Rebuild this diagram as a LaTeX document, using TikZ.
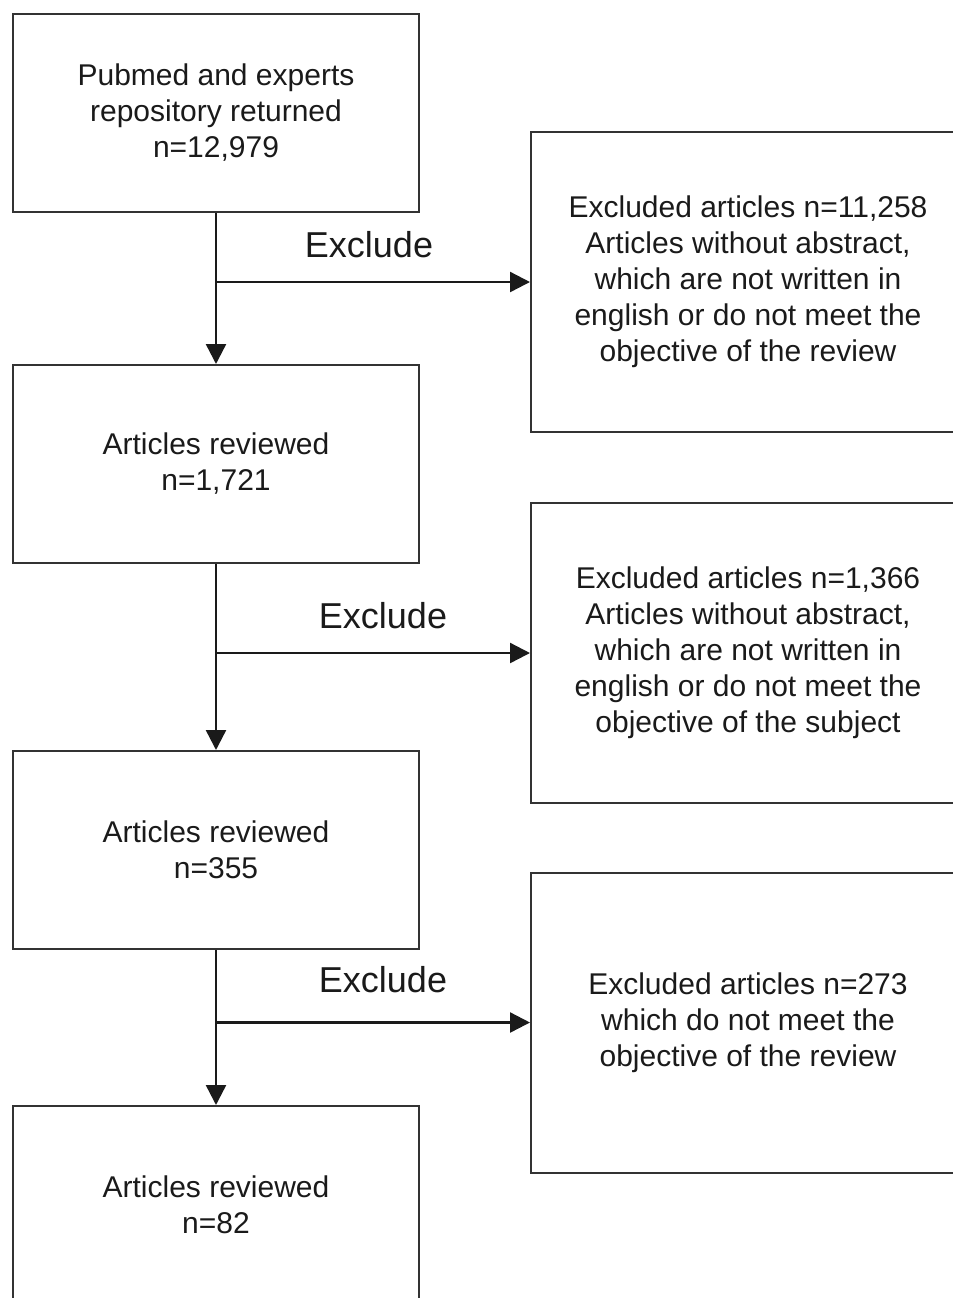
\documentclass[tikz,border=0pt]{standalone}
\usepackage{fontspec}
\setmainfont{Liberation Sans}
\usepackage{tikz}
\usetikzlibrary{positioning, arrows.meta}
\definecolor{boxgray}{HTML}{333333}
\definecolor{inkblack}{HTML}{1A1A1A}

\begin{document}
\begin{tikzpicture}[
    >={Triangle[length=10pt, width=10pt]},
    stage/.style={rectangle, draw=boxgray, line width=1pt,
                minimum width=203pt, minimum height=99pt, align=center,
                inner sep=0pt, text=inkblack, font=\fontsize{15}{18}\selectfont},
    excl/.style={stage, minimum width=217pt, minimum height=150pt},
    line/.style={->, line width=1.2pt, inkblack},
    tag/.style={text=inkblack, font=\fontsize{18}{21}\selectfont}
  ]
  % Page frame (the boxes run off the right and bottom edges)
  \path[use as bounding box, clip] (0,0) rectangle (476.5pt,-649pt);

  % Left column: screening stages
  \node[stage] (found) at (108pt,-56.5pt) {Pubmed and experts\\repository returned\\n=12,979};
  \node[stage] (rev1) [below=75.5pt of found] {Articles reviewed\\n=1,721};
  \node[stage] (rev2) [below=93pt of rev1] {Articles reviewed\\n=355};
  \node[stage] (rev3) [below=77.5pt of rev2] {Articles reviewed\\n=82};

  % Right column: exclusions
  \node[excl] (out1) [right=55pt of found, yshift=-84.5pt] {Excluded articles n=11,258\\Articles without abstract,\\which are not written in\\english or do not meet the\\objective of the review};
  \node[excl] (out2) [right=55pt of rev1, yshift=-94.5pt] {Excluded articles n=1,366\\Articles without abstract,\\which are not written in\\english or do not meet the\\objective of the subject};
  \node[excl] (out3) [right=55pt of rev2, yshift=-86.25pt] {Excluded articles n=273\\which do not meet the\\objective of the review};

  % Branch points
  \coordinate (fork1) at (found.south |- out1.west);
  \coordinate (fork2) at (rev1.south |- out2.west);
  \coordinate (fork3) at (rev2.south |- out3.west);

  % Connections
  \draw[line] (found) -- (rev1);
  \draw[line] (rev1) -- (rev2);
  \draw[line] (rev2) -- (rev3);
  \draw[line] (fork1) -- (out1.west) node[tag, midway, above=8pt, xshift=-2pt] {Exclude};
  \draw[line] (fork2) -- (out2.west) node[tag, midway, above=8pt, xshift=5pt] {Exclude};
  \draw[line] (fork3) -- (out3.west) node[tag, midway, above=11pt, xshift=5pt] {Exclude};
\end{tikzpicture}
\end{document}
